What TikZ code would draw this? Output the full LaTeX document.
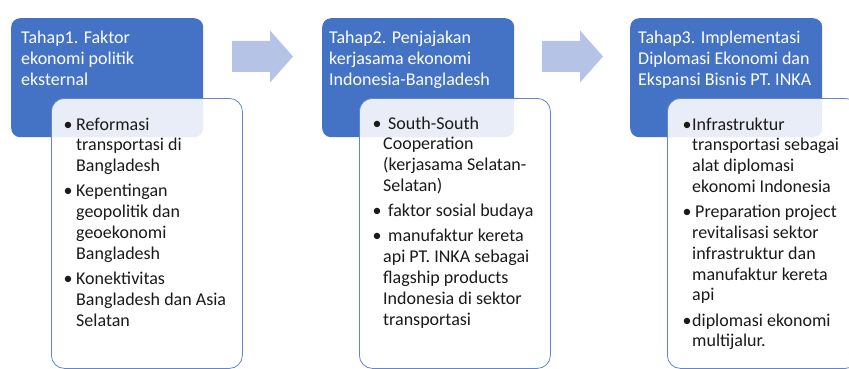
\documentclass[tikz,border=0pt]{standalone}
\usepackage{fontspec}
\setmainfont{Carlito}
\usetikzlibrary{positioning}

\definecolor{stageblue}{HTML}{4472C4}
\definecolor{arrowblue}{HTML}{B4C3E6}
\definecolor{itemtext}{HTML}{1A1A1A}

\newcommand\itembul[1]{\llap{\textbullet\hspace{#1}}}

\begin{document}
\begin{tikzpicture}[x=1pt, y=-1pt,
  stage/.style={fill=stageblue, rounded corners=9pt, minimum width=192pt,
    minimum height=119pt, anchor=north west, inner sep=0pt},
  detail/.style={draw=stageblue!85, line width=0.8pt, fill=white, fill opacity=0.88,
    rounded corners=13pt, minimum width=191pt, minimum height=270pt,
    anchor=north west, inner sep=0pt},
  title/.style={text=white, anchor=base west, inner sep=0pt,
    font=\fontsize{18}{21}\selectfont},
  item/.style={text=itemtext, anchor=north west, inner sep=0pt,
    font=\fontsize{18}{20.8}\selectfont},
  blockarr/.pic={\fill[arrowblue] (0,-15.5) -- (38,-15.5) -- (38,-26) -- (61,0)
    -- (38,26) -- (38,15.5) -- (0,15.5) -- cycle;}]
  \useasboundingbox (0,0) rectangle (849,369);

  % stage boxes
  \node[stage] (s1) at (11,18) {};
  \node[stage] (s2) at (322,18) {};
  \node[stage] (s3) at (630,18) {};

  \node[title] (t1) at (21,44) {\begin{tabular}[t]{@{}l@{}}Tahap1. Faktor\\ekonomi politik\\eksternal\end{tabular}};
  \node[title] (t2) at (329,44) {\begin{tabular}[t]{@{}l@{}}Tahap2. Penjajakan\\kerjasama ekonomi\\Indonesia-Bangladesh\end{tabular}};
  \node[title] (t3) at (638,44) {\begin{tabular}[t]{@{}l@{}}Tahap3. Implementasi\\Diplomasi Ekonomi dan\\Ekspansi Bisnis PT. INKA\end{tabular}};

  % arrows between stages
  \pic at (232,56.5) {blockarr};
  \pic at (542,56.5) {blockarr};

  % detail boxes
  \node[detail] (d1) at (51,98) {};
  \node[detail] (d2) at (359,98) {};
  \node[detail] (d3) at (667,98) {};

  % stage 1 items
  \node[item, anchor=base west] (a1) at (76,130) {\itembul{3.5pt}\begin{tabular}[t]{@{}l@{}}Reformasi\\transportasi di\\Bangladesh\end{tabular}};
  \node[item, below=4pt of a1.south west, anchor=north west] (a2) {\itembul{3.5pt}\begin{tabular}[t]{@{}l@{}}Kepentingan\\geopolitik dan\\geoekonomi\\Bangladesh\end{tabular}};
  \node[item, below=4pt of a2.south west, anchor=north west] (a3) {\itembul{3.5pt}\begin{tabular}[t]{@{}l@{}}Konektivitas\\Bangladesh dan Asia\\Selatan\end{tabular}};

  % stage 2 items
  \node[item, anchor=base west] (b1) at (383,129) {\itembul{1.5pt}\begin{tabular}[t]{@{}l@{}}\hspace{5pt}South-South\\Cooperation\\(kerjasama Selatan-\\Selatan)\end{tabular}};
  \node[item, below=4pt of b1.south west, anchor=north west] (b2) {\itembul{1.5pt}\begin{tabular}[t]{@{}l@{}}\hspace{5pt}faktor sosial budaya\end{tabular}};
  \node[item, below=4pt of b2.south west, anchor=north west] (b3) {\itembul{1.5pt}\begin{tabular}[t]{@{}l@{}}\hspace{5pt}manufaktur kereta\\api PT. INKA sebagai\\flagship products\\Indonesia di sektor\\transportasi\end{tabular}};

  % stage 3 items
  \node[item, anchor=base west] (c1) at (692,130) {\itembul{0.5pt}\begin{tabular}[t]{@{}l@{}}Infrastruktur\\transportasi sebagai\\alat diplomasi\\ekonomi Indonesia\end{tabular}};
  \node[item, below=4pt of c1.south west, anchor=north west] (c2) {\itembul{0.5pt}\begin{tabular}[t]{@{}l@{}}\hspace{3pt}Preparation project\\revitalisasi sektor\\infrastruktur dan\\manufaktur kereta\\api\end{tabular}};
  \node[item, below=4pt of c2.south west, anchor=north west] (c3) {\itembul{0.5pt}\begin{tabular}[t]{@{}l@{}}diplomasi ekonomi\\multijalur.\end{tabular}};
\end{tikzpicture}
\end{document}
